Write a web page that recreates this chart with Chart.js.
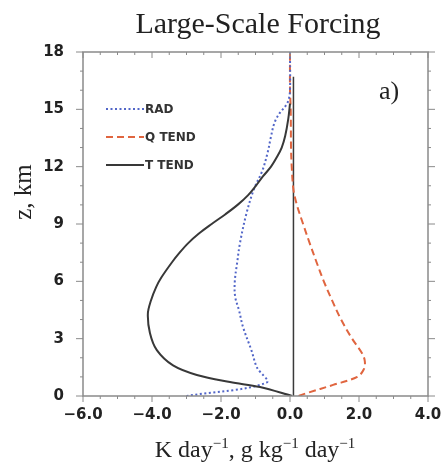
<!DOCTYPE html>
<html>
<head>
<meta charset="utf-8">
<script src="https://cdn.jsdelivr.net/npm/chart.js@4"></script>
<style>
html,body{margin:0;padding:0;background:#fff;}
#wrap{width:445px;height:464px;position:relative;}
</style>
</head>
<body>
<div id="wrap"><canvas id="c" width="445" height="464"></canvas></div>
<script>
// ---- data ----
const titleText = "Large-Scale Forcing";
const panelLabel = "a)";
const seriesNames = ["RAD", "Q TEND", "T TEND"];

const xTicks = [-6, -4, -2, 0, 2, 4];
const xTickLabels = ["\u22126.0", "\u22124.0", "\u22122.0", "0.0", "2.0", "4.0"];
const yTicks = [0, 3, 6, 9, 12, 15, 18];
const yTickLabels = ["0", "3", "6", "9", "12", "15", "18"];

// RAD (blue dotted): height km / tendency
const radZ = [0, 0.7, 1.5, 2.4, 3.6, 4.5, 5.2, 6.0, 7.0, 8.0, 9.5, 10.8, 11.8, 12.8, 13.5, 14.3, 14.8, 15.2, 15.5, 16, 18];
const radX = [-3.0, -0.68, -0.96, -1.12, -1.36, -1.48, -1.59, -1.6, -1.53, -1.45, -1.27, -1.05, -0.8, -0.64, -0.56, -0.45, -0.3, -0.12, -0.04, 0, 0];

// Q TEND (orange dashed)
const qZ = [0, 0.16, 0.58, 1.0, 1.4, 1.8, 2.2, 3.0, 4.0, 5.0, 6.0, 7.0, 8.0, 9.0, 10.0, 10.8, 12.0, 13.0, 15.0, 16, 18];
const qX = [0.25, 0.5, 1.25, 1.95, 2.14, 2.17, 2.1, 1.8, 1.48, 1.22, 0.98, 0.77, 0.57, 0.38, 0.2, 0.1, 0.05, 0.03, 0.02, 0, 0];

// T TEND (black solid)
const tZ = [0, 0.47, 0.73, 1.1, 1.6, 2.4, 3.3, 4.3, 5.0, 5.7, 6.2, 7.0, 7.5, 8.0, 8.5, 9.0, 9.5, 10.0, 10.5, 11.0, 11.5, 12.0, 12.5, 13.0, 13.6, 14.5, 15.3];
const tX = [0.06, -0.87, -1.74, -2.7, -3.39, -3.86, -4.06, -4.12, -4.03, -3.88, -3.73, -3.42, -3.2, -2.95, -2.64, -2.27, -1.88, -1.52, -1.22, -0.99, -0.78, -0.55, -0.38, -0.24, -0.14, -0.05, 0];

// reference (zero) line
const zeroLineX = [0.1, 0.1];
const zeroLineZ = [0, 16.7];

function pts(xs, zs) { return xs.map((v, i) => ({ x: v, y: zs[i] })); }

const colors = { rad: "#5266c8", q: "#e0653f", t: "#383838", zero: "#3a3a3a" };

const overlay = {
  id: "overlay",
  afterDraw(chart) {
    const ctx = chart.ctx;
    const xs = chart.scales.x, ys = chart.scales.y;
    const a = chart.chartArea;
    ctx.save();
    // frame
    ctx.strokeStyle = "#8a8a8a";
    ctx.lineWidth = 1.5;
    ctx.strokeRect(a.left, a.top, a.right - a.left, a.bottom - a.top);
    // ticks
    ctx.lineWidth = 1;
    ctx.beginPath();
    for (let v = -6; v <= 4.001; v += 0.5) {
      const p = xs.getPixelForValue(v);
      const major = Math.abs(v / 2 - Math.round(v / 2)) < 1e-6;
      const L = major ? 6 : 3;
      ctx.moveTo(p, a.bottom); ctx.lineTo(p, a.bottom + L);
      ctx.moveTo(p, a.top); ctx.lineTo(p, a.top + (major ? 6 : 3));
    }
    for (let v = 0; v <= 18.001; v += 1) {
      const p = ys.getPixelForValue(v);
      const major = v % 3 === 0;
      const L = major ? 7 : 3;
      ctx.moveTo(a.left, p); ctx.lineTo(a.left - L, p);
      ctx.moveTo(a.right, p); ctx.lineTo(a.right + L, p);
    }
    ctx.stroke();
    // tick labels
    ctx.fillStyle = "#222";
    ctx.font = "bold 15px 'DejaVu Sans'";
    ctx.textAlign = "center";
    ctx.textBaseline = "middle";
    xTicks.forEach((v, i) => ctx.fillText(xTickLabels[i], xs.getPixelForValue(v), 415));
    ctx.textAlign = "right";
    yTicks.forEach((v, i) => ctx.fillText(yTickLabels[i], 64, ys.getPixelForValue(v)));
    // title
    ctx.textAlign = "center";
    ctx.textBaseline = "alphabetic";
    ctx.font = "30px 'Liberation Serif'";
    ctx.fillText(titleText, 258, 33);
    // panel label
    ctx.textAlign = "left";
    ctx.font = "26px 'Liberation Serif'";
    ctx.fillText(panelLabel, 379, 99);
    // y title
    ctx.save();
    ctx.translate(24, 192);
    ctx.rotate(-Math.PI / 2);
    ctx.textAlign = "center";
    ctx.textBaseline = "middle";
    ctx.font = "25px 'Liberation Serif'";
    ctx.fillText("z, km", 0, 0);
    ctx.restore();
    // x title with superscripts
    const segs = [["K day", 0], ["\u22121", 1], [", g kg", 0], ["\u22121", 1], [" day", 0], ["\u22121", 1]];
    const mainF = "24px 'Liberation Serif'", supF = "15px 'Liberation Serif'";
    let total = 0;
    segs.forEach(s => { ctx.font = s[1] ? supF : mainF; total += ctx.measureText(s[0]).width; });
    let x = 255 - total / 2;
    ctx.textAlign = "left";
    segs.forEach(s => {
      ctx.font = s[1] ? supF : mainF;
      ctx.fillText(s[0], x, s[1] ? 448 : 457);
      x += ctx.measureText(s[0]).width;
    });
    // legend built from datasets
    const legY = [109, 137, 165];
    chart.data.datasets.slice(0, 3).forEach((ds, i) => {
      ctx.strokeStyle = ds.borderColor;
      ctx.lineWidth = ds.borderWidth;
      ctx.setLineDash(ds.borderDash || []);
      ctx.beginPath();
      ctx.moveTo(106, legY[i]); ctx.lineTo(144, legY[i]);
      ctx.stroke();
      ctx.setLineDash([]);
      ctx.fillStyle = "#333";
      ctx.font = "bold 12px 'DejaVu Sans'";
      ctx.textBaseline = "middle";
      ctx.fillText(ds.label, 145, legY[i] + 1);
    });
    ctx.restore();
  }
};

new Chart(document.getElementById("c"), {
  type: "scatter",
  data: {
    datasets: [
      { label: seriesNames[0], data: pts(radX, radZ), showLine: true, borderColor: colors.rad, borderWidth: 2, borderDash: [2, 2.5], pointRadius: 0, tension: 0.35, order: 2 },
      { label: seriesNames[1], data: pts(qX, qZ), showLine: true, borderColor: colors.q, borderWidth: 2, borderDash: [7, 4], pointRadius: 0, tension: 0.35, order: 3 },
      { label: seriesNames[2], data: pts(tX, tZ), showLine: true, borderColor: colors.t, borderWidth: 2, pointRadius: 0, tension: 0.35, order: 1 },
      { label: "zero", data: pts(zeroLineX, zeroLineZ), showLine: true, borderColor: colors.zero, borderWidth: 1.5, pointRadius: 0, order: 4 }
    ]
  },
  options: {
    responsive: false,
    animation: false,
    layout: { padding: { left: 83, right: 17, top: 52, bottom: 68 } },
    plugins: { legend: { display: false }, title: { display: false }, tooltip: { enabled: false } },
    scales: {
      x: { type: "linear", min: -6, max: 4, display: false },
      y: { type: "linear", min: 0, max: 18, display: false }
    }
  },
  plugins: [overlay]
});
</script>
</body>
</html>
